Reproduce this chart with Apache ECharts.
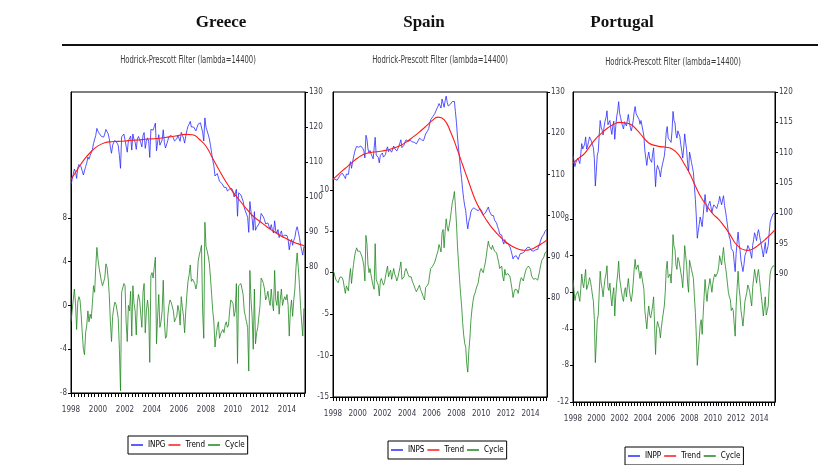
<!DOCTYPE html>
<html>
<head>
<meta charset="utf-8">
<script src="https://cdn.jsdelivr.net/npm/echarts@6/dist/echarts.min.js"></script>
<style>
  html, body { margin: 0; padding: 0; background: #fff; }
  #chart { width: 818px; height: 465px; }
</style>
</head>
<body>
<div id="chart"></div>
<script>
// monthly observations 1998M01 .. 2015M05
const months = []
for (let i = 0; i < 209; i++) months.push(1998 + i / 12)
const yearLabels = [1998, 2000, 2002, 2004, 2006, 2008, 2010, 2012, 2014]
const quarterTicks = []
for (let q = 0; q <= 69; q++) quarterTicks.push(1998 + q / 4)

// HP trend, read every half year
const trendYears = [1998, 1998.5, 1999, 1999.5, 2000, 2000.5, 2001, 2001.5, 2002, 2002.5, 2003, 2003.5,
  2004, 2004.5, 2005, 2005.5, 2006, 2006.5, 2007, 2007.5, 2008, 2008.5, 2009, 2009.5,
  2010, 2010.5, 2011, 2011.5, 2012, 2012.5, 2013, 2013.5, 2014, 2014.5, 2015, 2015.3333]

// ---- Greece
const inpg = [
  103.5, 105.0, 106.5, 108.0, 107.2, 105.3, 108.3, 109.3, 109.4, 108.6, 107.4, 106.3,
  106.3, 108.7, 109.7, 111.4, 110.8, 111.8, 111.8, 113.5, 115.3, 115.0, 117.6, 119.6,
  118.8, 118.2, 118.2, 117.3, 117.0, 117.1, 118.0, 119.3, 119.1, 118.1, 116.7, 114.2,
  112.5, 114.8, 115.6, 116.2, 116.0, 115.4, 114.7, 111.9, 108.2, 117.2, 117.6, 118.0,
  117.8, 114.5, 112.8, 116.1, 115.6, 117.4, 113.4, 118.0, 116.4, 115.7, 113.6, 116.6,
  117.3, 116.8, 115.5, 114.3, 117.6, 118.4, 113.9, 115.9, 116.9, 116.0, 111.3, 119.3,
  119.6, 119.1, 120.1, 121.1, 113.2, 115.7, 117.8, 114.8, 115.3, 116.3, 119.2, 115.5,
  114.0, 114.3, 116.1, 117.2, 117.7, 117.6, 117.5, 116.9, 116.0, 116.4, 116.6, 117.6,
  117.1, 115.9, 118.5, 117.6, 116.8, 115.4, 117.4, 119.0, 120.2, 120.8, 121.6, 120.0,
  120.2, 120.0, 119.6, 118.9, 119.1, 120.8, 121.1, 121.2, 121.5, 118.5, 116.0, 122.6,
  119.9, 118.9, 117.8, 116.6, 114.7, 112.6, 110.5, 108.9, 106.0, 106.5, 106.7, 106.6,
  104.5, 104.3, 103.9, 103.6, 102.8, 102.9, 102.7, 101.7, 101.5, 102.3, 102.8, 102.4,
  101.6, 100.0, 100.1, 102.2, 94.5, 101.2, 100.8, 100.6, 99.7, 98.8, 96.9, 96.0,
  95.1, 94.2, 89.9, 98.7, 95.7, 93.8, 90.5, 95.8, 90.5, 91.3, 91.5, 92.3,
  93.0, 95.3, 94.8, 94.3, 93.5, 92.3, 92.3, 92.6, 91.6, 90.8, 92.1, 90.6,
  89.7, 93.2, 90.3, 89.6, 90.7, 88.4, 89.5, 90.3, 88.7, 89.0, 89.1, 88.7,
  89.0, 87.8, 84.9, 87.0, 87.9, 86.2, 87.6, 88.5, 90.4, 91.5, 90.1, 88.5,
  86.4, 84.8, 83.4, 85.8, 85.5
]
const trendGreece = [105.0, 108.0, 110.8, 113.0, 114.6, 115.5, 115.8, 115.9, 116.0, 116.2, 116.3, 116.5,
  116.6, 116.8, 117.0, 117.3, 117.6, 117.9, 117.8, 116.5, 114.5, 111.0, 107.5, 104.2,
  101.4, 99.0, 96.6, 94.5, 93.0, 91.5, 90.2, 89.0, 88.0, 87.1, 86.4, 86.0]
const cycleGreece = [
  -1.5, -0.5, 0.5, 1.5, 0.2, -2.2, 0.3, 0.8, 0.5, -0.8, -2.5, -4.0,
  -4.5, -2.5, -1.8, -0.5, -1.5, -0.8, -1.2, 0.2, 1.8, 1.2, 3.5, 5.3,
  4.2, 3.4, 3.3, 2.2, 1.8, 1.7, 2.5, 3.8, 3.5, 2.5, 1.0, -1.5,
  -3.3, -1.0, -0.2, 0.3, 0.1, -0.5, -1.2, -4.0, -7.8, 1.2, 1.6, 2.0,
  1.8, -1.5, -3.3, 0.0, -0.5, 1.3, -2.8, 1.8, 0.2, -0.5, -2.7, 0.3,
  1.0, 0.5, -0.8, -2.0, 1.2, 2.0, -2.5, -0.5, 0.5, -0.5, -5.2, 2.7,
  3.0, 2.5, 3.5, 4.4, -3.5, -1.0, 1.0, -2.0, -1.5, -0.5, 2.3, -1.5,
  -3.0, -2.8, -1.0, 0.0, 0.5, 0.3, 0.2, -0.5, -1.5, -1.2, -1.0, 0.0,
  -0.5, -1.8, 0.8, -0.2, -1.0, -2.5, -0.5, 1.0, 2.2, 2.8, 3.7, 2.2,
  2.4, 2.3, 2.0, 1.5, 2.0, 4.0, 4.6, 5.0, 5.5, -0.5, -3.0, 7.6,
  5.4, 5.0, 4.5, 3.8, 2.5, 1.0, -0.5, -1.5, -3.8, -2.8, -2.0, -1.5,
  -3.0, -2.6, -2.5, -2.2, -2.5, -1.8, -1.5, -2.0, -1.8, -0.5, 0.5, 0.5,
  0.2, -1.0, -0.5, 2.0, -5.3, 1.8, 1.8, 2.0, 1.5, 1.0, -0.5, -1.0,
  -1.5, -2.0, -6.0, 3.2, 0.5, -1.0, -4.0, 1.5, -3.5, -2.5, -2.0, -1.0,
  0.0, 2.5, 2.3, 2.0, 1.5, 0.5, 0.8, 1.3, 0.5, 0.0, 1.5, 0.2,
  -0.5, 3.2, 0.5, 0.0, 1.3, -0.8, 0.5, 1.5, 0.0, 0.5, 0.8, 0.5,
  1.0, 0.0, -2.8, -0.5, 0.5, -1.0, 0.5, 1.5, 3.5, 4.8, 3.5, 2.0,
  0.0, -1.5, -2.8, -0.3, -0.5
]
const greeceLeftTicks = [-8, -4, 0, 4, 8]
const greeceRightTicks = [80, 90, 100, 110, 120, 130]

// ---- Spain
const inps = [
  109.1, 109.0, 108.8, 108.6, 108.6, 108.8, 109.4, 109.9, 110.3, 110.3, 110.1, 109.5,
  109.0, 110.1, 110.1, 110.0, 111.9, 113.1, 111.5, 113.0, 114.2, 115.4, 116.2, 116.8,
  116.6, 116.6, 116.9, 116.9, 116.6, 116.3, 115.7, 114.0, 119.5, 118.6, 116.2, 115.2,
  115.8, 115.0, 114.4, 113.8, 113.4, 119.0, 114.7, 114.3, 114.1, 112.8, 114.6, 115.0,
  115.2, 114.2, 114.6, 114.8, 116.1, 116.7, 115.5, 116.1, 116.5, 115.4, 115.7, 116.9,
  116.3, 116.1, 115.7, 116.2, 116.9, 117.6, 118.4, 116.5, 116.6, 117.1, 117.9, 118.4,
  118.3, 118.0, 117.9, 118.3, 118.2, 117.9, 117.8, 117.8, 117.5, 117.4, 117.4, 118.3,
  118.8, 118.5, 118.4, 118.4, 118.2, 118.1, 119.8, 120.2, 120.6, 121.1, 122.3, 123.3,
  123.7, 124.0, 124.3, 124.8, 125.1, 126.0, 126.5, 127.2, 126.7, 126.1, 128.3, 128.6,
  126.3, 127.9, 129.0, 127.5, 126.6, 126.2, 127.0, 127.4, 127.7, 127.5, 127.7, 125.2,
  122.6, 119.1, 116.4, 113.7, 111.2, 109.0, 106.3, 104.1, 102.4, 101.2, 98.5, 96.8,
  98.6, 99.4, 100.9, 101.5, 101.9, 101.9, 101.5, 101.5, 101.4, 101.2, 101.5, 101.7,
  101.5, 100.9, 100.2, 100.4, 100.6, 101.0, 101.6, 102.1, 101.1, 100.6, 100.1, 100.2,
  100.0, 98.9, 98.6, 98.2, 97.3, 96.6, 95.5, 95.4, 95.3, 93.8, 93.1, 94.2,
  93.3, 92.9, 93.2, 93.1, 92.4, 91.6, 90.6, 89.5, 90.0, 90.3, 90.3, 89.9,
  89.4, 90.1, 90.8, 91.2, 90.9, 90.7, 91.2, 91.7, 92.1, 92.3, 92.5, 92.3,
  92.2, 91.5, 91.4, 91.4, 91.3, 91.7, 91.7, 91.8, 92.0, 93.3, 94.1, 94.8,
  95.1, 95.5, 96.2, 96.4, 96.7
]
const trendSpain = [108.8, 110.2, 111.5, 112.8, 114.0, 114.9, 115.3, 115.5, 115.7, 116.0, 116.5, 117.1,
  118.0, 119.1, 120.3, 121.6, 123.0, 123.9, 123.3, 120.5, 116.6, 112.3, 108.1, 104.0,
  101.0, 98.6, 96.6, 95.0, 93.6, 92.6, 91.9, 91.6, 91.8, 92.5, 93.4, 94.1]
const cycleSpain = [
  0.3, 0.0, -0.5, -0.9, -1.1, -1.2, -0.8, -0.5, -0.3, -0.6, -1.0, -1.8,
  -2.5, -1.6, -1.8, -2.2, -0.5, 0.5, -1.3, 0.0, 1.0, 2.0, 2.6, 3.0,
  2.6, 2.4, 2.6, 2.4, 2.0, 1.5, 0.8, -1.0, 4.5, 3.5, 1.0, 0.0,
  0.5, -0.3, -1.0, -1.6, -2.0, 3.5, -0.8, -1.2, -1.5, -2.8, -1.0, -0.7,
  -0.5, -1.5, -1.2, -1.0, 0.2, 0.8, -0.5, 0.0, 0.3, -0.8, -0.6, 0.5,
  -0.2, -0.5, -1.0, -0.6, 0.0, 0.6, 1.3, -0.8, -0.8, -0.5, 0.2, 0.5,
  0.3, -0.2, -0.5, -0.3, -0.5, -1.0, -1.3, -1.5, -2.0, -2.3, -2.5, -1.8,
  -1.5, -2.0, -2.3, -2.5, -3.0, -3.3, -1.8, -1.6, -1.5, -1.2, -0.2, 0.5,
  0.7, 0.8, 1.0, 1.3, 1.5, 2.2, 2.6, 3.4, 3.0, 2.5, 4.8, 5.2,
  3.0, 5.0, 6.5, 5.5, 5.0, 5.0, 6.5, 7.5, 8.5, 9.0, 9.8, 8.0,
  6.0, 3.2, 1.2, -0.8, -2.5, -4.0, -6.0, -7.5, -8.5, -9.0, -11.0, -12.0,
  -9.5, -8.0, -5.8, -4.5, -3.5, -2.8, -2.5, -2.0, -1.6, -1.3, -0.5, 0.2,
  0.5, 0.3, 0.0, 0.6, 1.2, 2.0, 3.0, 3.8, 3.2, 3.0, 2.8, 3.3,
  3.4, 2.6, 2.5, 2.4, 1.8, 1.3, 0.5, 0.6, 0.8, -0.5, -1.0, 0.4,
  -0.3, -0.5, -0.1, 0.0, -0.5, -1.2, -2.0, -3.0, -2.4, -2.0, -1.8, -2.1,
  -2.5, -1.8, -1.0, -0.6, -0.8, -1.0, -0.4, 0.1, 0.5, 0.6, 0.8, 0.6,
  0.4, -0.4, -0.6, -0.8, -1.0, -0.7, -0.8, -0.9, -0.8, 0.3, 1.0, 1.5,
  1.7, 1.9, 2.4, 2.5, 2.6
]
const spainLeftTicks = [-15, -10, -5, 0, 5, 10]
const spainRightTicks = [80, 90, 100, 110, 120, 130]

// ---- Portugal
const inpp = [
  109.7, 108.6, 107.7, 108.4, 108.3, 109.1, 109.4, 108.2, 109.8, 111.5, 110.6, 110.3,
  111.4, 112.6, 110.6, 111.1, 111.8, 112.6, 112.4, 111.9, 111.3, 110.8, 109.0, 104.5,
  106.9, 109.6, 110.2, 112.9, 115.3, 114.2, 113.7, 112.9, 114.2, 115.2, 115.8, 116.9,
  114.6, 114.4, 115.3, 113.9, 113.0, 114.4, 115.2, 112.2, 114.3, 115.9, 116.9, 118.4,
  116.5, 115.8, 115.0, 114.4, 113.9, 115.1, 115.4, 114.4, 115.4, 116.3, 115.0, 114.2,
  113.6, 114.3, 115.3, 116.7, 117.6, 116.4, 116.3, 116.5, 115.5, 114.7, 115.3, 115.3,
  113.6, 112.7, 110.3, 109.1, 107.9, 109.3, 110.1, 109.0, 108.7, 108.4, 109.8, 110.8,
  107.7, 104.4, 107.1, 107.9, 108.1, 107.0, 106.0, 107.2, 108.0, 108.1, 109.4, 110.9,
  113.4, 114.3, 112.4, 112.6, 112.7, 111.7, 113.6, 116.8, 115.3, 114.9, 113.1, 112.4,
  113.6, 113.1, 112.7, 111.3, 110.3, 109.1, 110.8, 113.1, 111.7, 110.5, 108.2, 106.9,
  110.1, 109.3, 108.4, 107.6, 106.7, 104.4, 102.3, 99.4, 95.9, 97.1, 98.2, 99.4,
  99.6, 97.8, 99.6, 101.4, 103.1, 101.4, 100.2, 101.2, 101.6, 102.0, 101.1, 100.1,
  100.9, 101.4, 101.6, 101.2, 100.8, 101.4, 101.8, 102.8, 102.8, 101.4, 102.2, 102.9,
  101.3, 100.4, 99.3, 98.1, 96.9, 96.1, 95.6, 94.2, 94.2, 93.7, 91.9, 90.4,
  93.4, 95.3, 96.9, 95.0, 93.9, 92.2, 91.3, 90.4, 91.5, 93.0, 93.5, 93.9,
  94.7, 94.5, 94.0, 93.3, 92.6, 94.7, 95.7, 96.8, 96.2, 95.5, 96.7, 97.3,
  96.4, 95.5, 94.7, 93.8, 92.8, 94.1, 95.2, 93.4, 94.0, 94.7, 96.8, 98.5,
  99.1, 99.1, 99.9, 100.1, 100.1
]
const trendPortugal = [108.3, 109.1, 109.9, 111.2, 112.4, 113.3, 114.1, 114.7, 115.0, 114.9, 114.6, 113.7,
  112.6, 111.6, 111.2, 111.0, 110.9, 110.6, 109.8, 108.3, 106.6, 104.5, 102.6, 101.2,
  99.9, 99.0, 97.8, 96.4, 94.9, 94.1, 93.9, 94.2, 94.9, 95.7, 96.6, 97.3]
const cyclePortugal = [
  1.4, 0.2, -0.9, -0.3, -0.5, 0.1, 0.3, -1.0, 0.4, 2.0, 1.0, 0.5,
  1.5, 2.5, 0.3, 0.5, 1.0, 1.6, 1.2, 0.5, -0.3, -1.0, -3.0, -7.7,
  -5.5, -3.0, -2.5, 0.0, 2.3, 1.0, 0.4, -0.5, 0.6, 1.5, 2.0, 2.9,
  0.5, 0.2, 1.0, -0.5, -1.5, -0.2, 0.5, -2.6, -0.5, 1.0, 2.0, 3.4,
  1.5, 0.8, 0.0, -0.6, -1.0, 0.2, 0.5, -0.5, 0.6, 1.5, 0.3, -0.5,
  -1.0, -0.2, 1.0, 2.5, 3.6, 2.5, 2.6, 3.0, 2.2, 1.5, 2.3, 2.5,
  1.0, 0.3, -2.0, -3.0, -4.0, -2.5, -1.5, -2.5, -2.8, -3.0, -1.5, -0.5,
  -3.5, -6.8, -4.0, -3.2, -3.0, -4.0, -5.0, -3.8, -3.0, -2.8, -1.5, 0.0,
  2.5, 3.4, 1.6, 1.8, 2.0, 1.0, 3.0, 6.3, 5.0, 4.7, 3.0, 2.5,
  3.8, 3.5, 3.4, 2.2, 1.5, 0.5, 2.5, 5.1, 4.0, 3.0, 1.0, 0.0,
  3.5, 3.0, 2.5, 2.0, 1.5, -0.5, -2.2, -4.8, -8.0, -6.5, -5.0, -3.5,
  -3.0, -4.6, -2.5, -0.5, 1.4, 0.0, -1.0, 0.2, 0.8, 1.5, 0.8, 0.0,
  1.0, 1.6, 2.0, 1.7, 1.5, 2.2, 2.8, 4.0, 4.2, 3.0, 4.0, 4.9,
  3.5, 2.8, 2.0, 1.0, 0.0, -0.5, -0.8, -2.0, -1.7, -2.0, -3.5, -4.8,
  -1.5, 0.5, 2.3, 0.5, -0.5, -2.0, -2.8, -3.7, -2.5, -1.0, -0.5, 0.0,
  0.8, 0.5, 0.0, -0.8, -1.5, 0.5, 1.5, 2.5, 1.8, 1.0, 2.0, 2.5,
  1.5, 0.5, -0.5, -1.5, -2.6, -1.5, -0.5, -2.5, -2.0, -1.5, 0.5, 2.0,
  2.5, 2.3, 2.9, 3.0, 2.8
]
const portugalLeftTicks = [-12, -8, -4, 0, 4, 8]
const portugalRightTicks = [90, 95, 100, 105, 110, 115, 120]

// layout of the three EViews panels
const narrow = "'Liberation Sans Narrow', 'DejaVu Sans Condensed', 'Arial Narrow', sans-serif"
const panels = [
  { title: 'Greece', titleX: 221, subX: 188, subY: 60, name: 'INPG', inp: inpg, trend: trendGreece, cycle: cycleGreece,
    leftTicks: greeceLeftTicks, rightTicks: greeceRightTicks,
    grid: { left: 71, top: 92, width: 234, height: 301 }, leftRange: [-8, 19.5], rightRange: [44, 130], legend: { left: 128, top: 436 } },
  { title: 'Spain', titleX: 424, subX: 440, subY: 60, name: 'INPS', inp: inps, trend: trendSpain, cycle: cycleSpain,
    leftTicks: spainLeftTicks, rightTicks: spainRightTicks,
    grid: { left: 333, top: 92, width: 214, height: 305 }, leftRange: [-15, 21.8], rightRange: [56, 130], legend: { left: 388, top: 441 } },
  { title: 'Portugal', titleX: 622, subX: 673, subY: 62, name: 'INPP', inp: inpp, trend: trendPortugal, cycle: cyclePortugal,
    leftTicks: portugalLeftTicks, rightTicks: portugalRightTicks,
    grid: { left: 573, top: 92, width: 202, height: 310 }, leftRange: [-12, 21.9], rightRange: [68.9, 120], legend: { left: 625, top: 447 } }
]
const xMax = 1998 + 208 / 12
const labelFont = { fontSize: 8, fontFamily: narrow, color: '#3a3a4a' }

const grids = []; const xAxes = []; const yAxes = []; const series = []; const legends = []
const graphics = [
  { type: 'line', shape: { x1: 62, y1: 45, x2: 818, y2: 45 }, style: { stroke: '#111', lineWidth: 2 } }
]

panels.forEach((p, k) => {
  grids.push({ ...p.grid, show: true, borderColor: '#000', borderWidth: 1, backgroundColor: 'transparent' })
  xAxes.push({
    type: 'value', gridIndex: k, min: 1998, max: xMax,
    axisLine: { show: true, onZero: false, lineStyle: { color: '#000', width: 1 } },
    axisTick: { show: true, inside: false, length: 4, customValues: quarterTicks, lineStyle: { color: '#000' } },
    axisLabel: { ...labelFont, customValues: yearLabels, formatter: v => String(Math.round(v)), margin: 13 },
    splitLine: { show: false }
  })
  const yBase = {
    type: 'value', gridIndex: k,
    axisLine: { show: true, onZero: false, lineStyle: { color: '#000', width: 1 } },
    splitLine: { show: false }
  }
  yAxes.push({ ...yBase, position: 'left', min: p.leftRange[0], max: p.leftRange[1],
    axisTick: { show: true, length: 3, customValues: p.leftTicks, lineStyle: { color: '#000' } },
    axisLabel: { ...labelFont, customValues: p.leftTicks, margin: 4 } })
  yAxes.push({ ...yBase, position: 'right', min: p.rightRange[0], max: p.rightRange[1],
    axisTick: { show: true, length: 3, customValues: p.rightTicks, lineStyle: { color: '#000' } },
    axisLabel: { ...labelFont, customValues: p.rightTicks, margin: 4 } })

  series.push({
    name: p.name, type: 'line', xAxisIndex: k, yAxisIndex: 2 * k + 1, showSymbol: false,
    data: months.map((m, i) => [m, p.inp[i]]),
    lineStyle: { color: '#2a2aff', width: 0.8 }, itemStyle: { color: '#2a2aff' }
  })
  series.push({
    name: 'Trend', type: 'line', xAxisIndex: k, yAxisIndex: 2 * k + 1, showSymbol: false, smooth: true,
    data: trendYears.map((t, i) => [t, p.trend[i]]),
    lineStyle: { color: '#ff1a1a', width: 1.1 }, itemStyle: { color: '#ff1a1a' }
  })
  series.push({
    name: 'Cycle', type: 'line', xAxisIndex: k, yAxisIndex: 2 * k, showSymbol: false,
    data: months.map((m, i) => [m, p.cycle[i]]),
    lineStyle: { color: '#1f861f', width: 0.8 }, itemStyle: { color: '#1f861f' }
  })

  legends.push({
    left: p.legend.left, top: p.legend.top, data: [p.name, 'Trend', 'Cycle'],
    icon: 'rect', itemWidth: 12, itemHeight: 1.5, itemGap: 3, padding: [5, 3, 5, 3],
    borderColor: '#000', borderWidth: 1, selectedMode: false,
    textStyle: { fontSize: 8, fontFamily: narrow, color: '#000' }
  })

  graphics.push({ type: 'text', x: p.titleX, y: 23,
    style: { text: p.title, x: 0, y: 0, textAlign: 'center', textVerticalAlign: 'middle',
      font: 'bold 17px "Liberation Serif", "Times New Roman", serif', fill: '#111' } })
  graphics.push({ type: 'text', x: p.subX, y: p.subY, scaleX: 0.69,
    style: { text: 'Hodrick-Prescott Filter (lambda=14400)', x: 0, y: 0, textAlign: 'center', textVerticalAlign: 'middle',
      font: '11px ' + narrow, fill: '#3a3a3a' } })
})

const chart = echarts.init(document.getElementById('chart'))
chart.setOption({
  animation: false,
  backgroundColor: '#fff',
  grid: grids,
  xAxis: xAxes,
  yAxis: yAxes,
  legend: legends,
  series: series,
  graphic: graphics
})
</script>
</body>
</html>
